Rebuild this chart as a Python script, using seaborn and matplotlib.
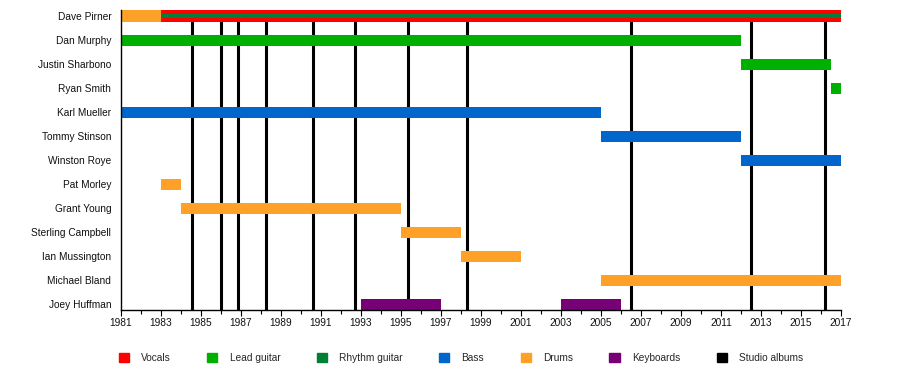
import matplotlib
matplotlib.use("Agg")
import matplotlib.pyplot as plt
import matplotlib.patches as mpatches
from matplotlib.ticker import MultipleLocator
import seaborn as sns
import pandas as pd

# band members, top to bottom
members = ["Dave Pirner", "Dan Murphy", "Justin Sharbono", "Ryan Smith", "Karl Mueller",
           "Tommy Stinson", "Winston Roye", "Pat Morley", "Grant Young", "Sterling Campbell",
           "Ian Mussington", "Michael Bland", "Joey Huffman"]

# one entry per bar
bar_member = ["Dave Pirner", "Dave Pirner", "Dan Murphy", "Justin Sharbono", "Ryan Smith",
              "Karl Mueller", "Tommy Stinson", "Winston Roye", "Pat Morley", "Grant Young",
              "Sterling Campbell", "Ian Mussington", "Michael Bland", "Joey Huffman", "Joey Huffman"]
bar_role = ["Drums", "Vocals", "Lead guitar", "Lead guitar", "Lead guitar",
            "Bass", "Bass", "Bass", "Drums", "Drums",
            "Drums", "Drums", "Drums", "Keyboards", "Keyboards"]
bar_start = [1981, 1983, 1981, 2012, 2016.5, 1981, 2005, 2012, 1983, 1984,
             1995, 1998, 2005, 1993, 2003]
bar_end = [1983, 2017, 2012, 2016.5, 2017, 2005, 2012, 2017, 1984, 1995,
           1998, 2001, 2017, 1997, 2006]

# secondary role drawn as a thin stripe inside the main bar
stripe_member = ["Dave Pirner"]
stripe_role = ["Rhythm guitar"]
stripe_start = [1983]
stripe_end = [2017]

album_years = [1984.57, 1986.0, 1986.87, 1988.25, 1990.62, 1992.7, 1995.37,
               1998.3, 2006.5, 2012.5, 2016.2]

year_ticks = list(range(1981, 2018, 2))

roles = ["Vocals", "Lead guitar", "Rhythm guitar", "Bass", "Drums", "Keyboards", "Studio albums"]
role_colors = {"Vocals": "#ff0000", "Lead guitar": "#00b000", "Rhythm guitar": "#007f35",
               "Bass": "#0066cc", "Drums": "#ffa126", "Keyboards": "#770077",
               "Studio albums": "#000000"}

bars = pd.DataFrame({"member": bar_member, "role": bar_role,
                     "start": bar_start, "end": bar_end})
stripes = pd.DataFrame({"member": stripe_member, "role": stripe_role,
                        "start": stripe_start, "end": stripe_end})

sns.set_theme(style="white")
plt.rcParams["font.family"] = ["Liberation Sans", "DejaVu Sans"]
plt.rcParams["font.size"] = 7

fig = plt.figure(figsize=(9, 3.7), dpi=100)
ax = fig.add_axes([121 / 900, 1 - 310 / 370, 720 / 900, 300 / 370])

row = {m: i for i, m in enumerate(members)}
h = 0.46

for yr in album_years:
    ax.axvline(yr, color="black", lw=2.2, zorder=1)

ax.barh(bars["member"].map(row), bars["end"] - bars["start"], left=bars["start"],
        height=h, color=bars["role"].map(role_colors), linewidth=0, zorder=2)
ax.barh(stripes["member"].map(row), stripes["end"] - stripes["start"], left=stripes["start"],
        height=h * 0.42, color=stripes["role"].map(role_colors), linewidth=0, zorder=3)

ax.set_xlim(1981, 2017)
ax.set_ylim(len(members) - 1 + 0.23, -0.25)
ax.set_yticks(range(len(members)))
ax.set_yticklabels(members)
ax.set_xticks(year_ticks)
ax.set_xticklabels([str(y) for y in year_ticks])
ax.xaxis.set_minor_locator(MultipleLocator(1))
ax.tick_params(axis="x", which="major", bottom=True, length=4, width=0.8, color="black",
               direction="out", pad=2, labelsize=7.3, labelcolor="#111111")
ax.tick_params(axis="x", which="minor", bottom=True, length=3, width=0.8, color="black",
               direction="out")
ax.tick_params(axis="y", length=0, pad=7, labelsize=7.3, labelcolor="#111111")

sns.despine(ax=ax, top=True, right=True)
for s in ["left", "bottom"]:
    ax.spines[s].set_color("black")
    ax.spines[s].set_linewidth(1)

handles = [mpatches.Patch(color=role_colors[r], label=r) for r in roles]
fig.legend(handles=handles, loc="center", bbox_to_anchor=(0.512, 0.032), ncol=len(roles),
           frameon=False, fontsize=7.3, handlelength=1.0, handleheight=1.0,
           handletextpad=1.2, columnspacing=3.6, borderaxespad=0)

fig.savefig("out.png", dpi=100)
